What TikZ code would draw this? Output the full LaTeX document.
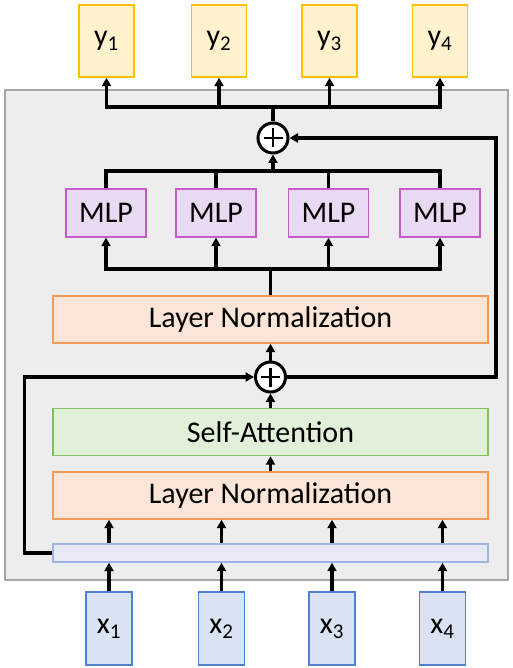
\documentclass[tikz,border=0pt]{standalone}
\usepackage{fontspec}
\setmainfont{Carlito}
\usetikzlibrary{arrows.meta,calc}
\definecolor{ocre}{HTML}{FFF2CC}
\definecolor{ocreb}{HTML}{FFC000}
\definecolor{lila}{HTML}{EAD9F2}
\definecolor{lilab}{HTML}{C65BCF}
\definecolor{naranja}{HTML}{FBE5D6}
\definecolor{naranjab}{HTML}{F29A5A}
\definecolor{verde}{HTML}{E2F0D9}
\definecolor{verdeb}{HTML}{80C05A}
\definecolor{azul}{HTML}{DAE3F3}
\definecolor{azulb}{HTML}{4F81D0}
\definecolor{token}{HTML}{E7EAF4}
\definecolor{tokenb}{HTML}{9DB5E0}
\definecolor{fondo}{HTML}{EDEDED}
\definecolor{fondob}{HTML}{A6A6A6}

\begin{document}
\begin{tikzpicture}[x=1pt,y=1pt,
    caja/.style={draw,line width=1.4pt,inner sep=0pt,font=\fontsize{30}{34}\selectfont},
    salida/.style={caja,fill=ocre,draw=ocreb,minimum width=55pt,minimum height=72pt},
    entrada/.style={caja,fill=azul,draw=azulb,minimum width=46pt,minimum height=73pt},
    mlp/.style={caja,fill=lila,draw=lilab,minimum width=80pt,minimum height=48pt},
    capa/.style={caja,minimum width=435pt,minimum height=47pt},
    suma/.style={circle,draw,fill=white,line width=3pt,minimum size=30pt,inner sep=0pt},
    flecha/.style={line width=3.2pt,-{Triangle[length=8.5pt,width=9pt]}},
    linea/.style={line width=3.2pt}]
        \useasboundingbox (0,0) rectangle (513,-668);
        % bloque
        \draw[fill=fondo,draw=fondob,line width=1.4pt] (5,-90) rectangle (508,-580);
        % salidas y entradas
        \foreach \i/\xs/\xe in {1/106.5/109, 2/219/221.5, 3/329.5/332, 4/440/442.5}{
          \node[salida] (y\i) at (\xs,-41) {y\textsubscript{\i}};
          \node[entrada] (x\i) at (\xe,-628.5) {x\textsubscript{\i}};
        }
        \foreach \i/\xm in {1/106, 2/216, 3/328.5, 4/440}
          \node[mlp] (mlp\i) at (\xm,-213) {MLP};
        \node[capa,fill=naranja,draw=naranjab] (ln2) at (270.5,-319.5) {Layer Normalization};
        \node[capa,fill=verde,draw=verdeb] (sa) at (270.5,-432) {Self-Attention};
        \node[capa,fill=naranja,draw=naranjab] (ln1) at (270.5,-495.5) {Layer Normalization};
        \node[caja,fill=token,draw=tokenb,minimum width=435pt,minimum height=18pt] (tok) at (270.5,-553) {};
        \node[suma] (sumT) at (273,-138) {};
        \node[suma] (sumB) at (270.5,-377) {};
        \foreach \s in {sumT,sumB}
          \draw[line width=2.8pt] ($(\s)+(-9.5,0)$) -- ($(\s)+(9.5,0)$) ($(\s)+(0,-9.5)$) -- ($(\s)+(0,9.5)$);
        \coordinate (busT) at (273,-107);
        \coordinate (busM) at (273,-171);
        \coordinate (busL) at (270.5,-269);
        \coordinate (der) at (496,-138);
        % conexiones
        \draw[linea] (sumT.north) -- (busT);
        \foreach \i in {1,...,4}{
          \draw[flecha] (busT) -| (y\i.south);
          \draw[linea] (mlp\i.north) |- (busM);
          \draw[flecha] (busL) -| (mlp\i.south);
          \draw[flecha] (x\i.north) -- (x\i.north |- tok.south);
          \draw[flecha] (x\i.north |- tok.north) -- (x\i.north |- ln1.south);
        }
        \draw[flecha] (busM) -- (sumT.south);
        \draw[linea] (ln2.north) -- (busL);
        \draw[flecha] (sumB.north) -- (ln2.south);
        \draw[flecha] (sa.north) -- (sumB.south);
        \draw[flecha] (ln1.north) -- (sa.south);
        \draw[flecha] (tok.west) -- ++(-28,0) |- (sumB.west);
        \draw[flecha] (sumB.east) -| (der) -- (sumT.east);
\end{tikzpicture}
\end{document}
